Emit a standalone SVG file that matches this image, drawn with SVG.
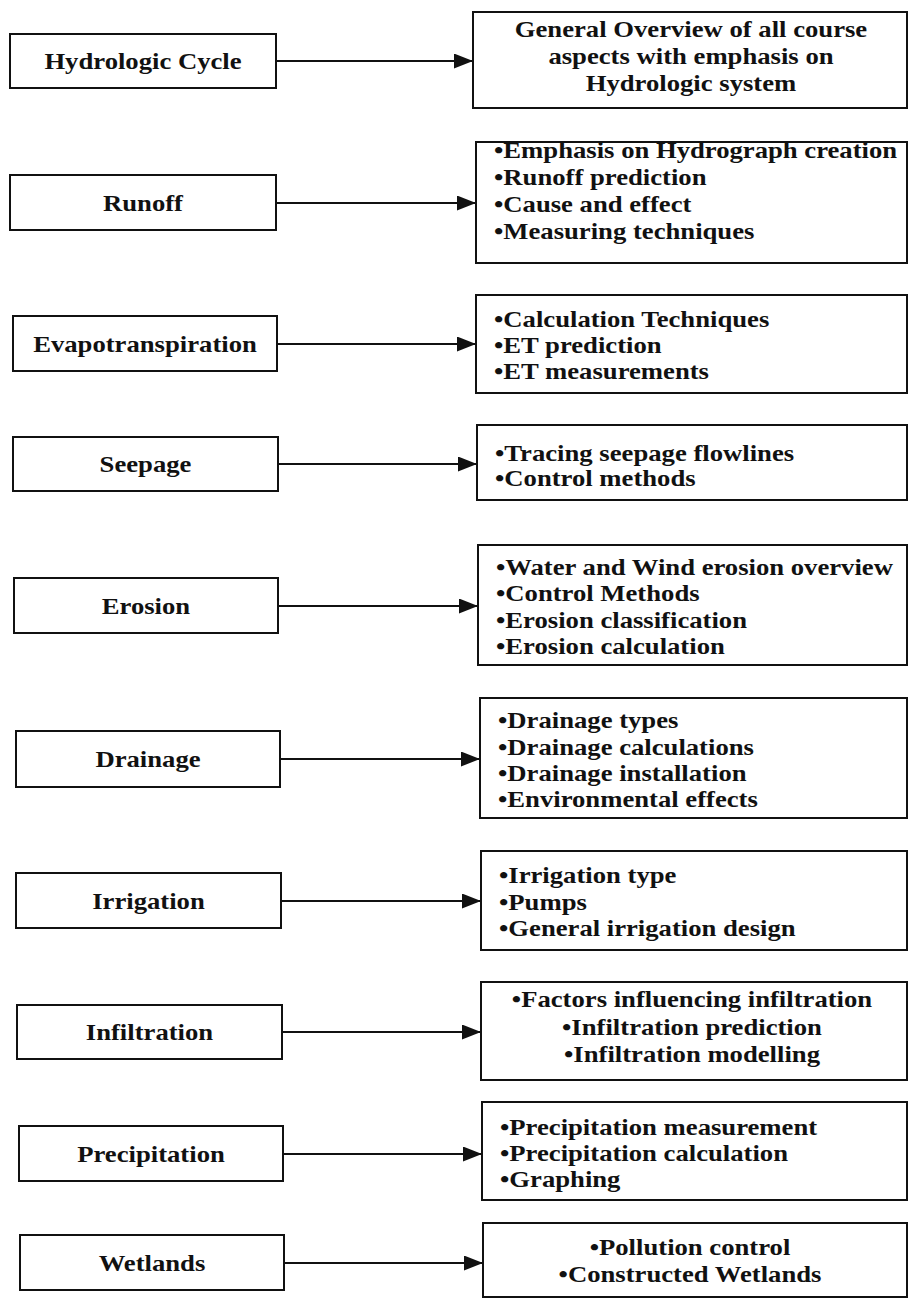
<svg xmlns="http://www.w3.org/2000/svg" width="909" height="1299" viewBox="0 0 909 1299">
<style>
.box{fill:#fff;stroke:#111;stroke-width:2}
.t{font-family:"Liberation Serif","Times New Roman",serif;font-weight:bold;font-size:23px;fill:#111}
.c{text-anchor:middle}
.con{stroke:#111;stroke-width:2;fill:none;marker-end:url(#ah)}
</style>
<defs>
<marker id="ah" markerUnits="userSpaceOnUse" markerWidth="19" markerHeight="15" refX="19" refY="7.5" orient="auto">
<path d="M0,0 L19,7.5 L0,15 z" fill="#111"/>
</marker>
</defs>
<rect width="909" height="1299" fill="#fff"/>
<g id="connectors">
<path class="con" d="M276,61 H473"/>
<path class="con" d="M276,203 H476"/>
<path class="con" d="M277,344 H476"/>
<path class="con" d="M278,464 H477"/>
<path class="con" d="M278,606 H478"/>
<path class="con" d="M280,759 H480"/>
<path class="con" d="M281,901 H481"/>
<path class="con" d="M282,1032 H481"/>
<path class="con" d="M283,1154 H482"/>
<path class="con" d="M284,1263 H483"/>
</g>
<g id="n-hydrologic-cycle">
<rect class="box" x="10" y="34" width="266" height="54"/>
<g transform="scale(1.16,1)"><text class="t c" x="123.28" y="69">Hydrologic Cycle</text></g>
</g>
<g id="n-runoff">
<rect class="box" x="10" y="175" width="266" height="55"/>
<g transform="scale(1.16,1)"><text class="t c" x="123.28" y="211">Runoff</text></g>
</g>
<g id="n-evapotranspiration">
<rect class="box" x="13" y="316" width="264" height="55"/>
<g transform="scale(1.16,1)"><text class="t c" x="125" y="352">Evapotranspiration</text></g>
</g>
<g id="n-seepage">
<rect class="box" x="13" y="437" width="265" height="54"/>
<g transform="scale(1.16,1)"><text class="t c" x="125.43" y="472">Seepage</text></g>
</g>
<g id="n-erosion">
<rect class="box" x="14" y="578" width="264" height="55"/>
<g transform="scale(1.16,1)"><text class="t c" x="125.86" y="614">Erosion</text></g>
</g>
<g id="n-drainage">
<rect class="box" x="16" y="731" width="264" height="56"/>
<g transform="scale(1.16,1)"><text class="t c" x="127.59" y="767">Drainage</text></g>
</g>
<g id="n-irrigation">
<rect class="box" x="16" y="873" width="265" height="55"/>
<g transform="scale(1.16,1)"><text class="t c" x="128.02" y="909">Irrigation</text></g>
</g>
<g id="n-infiltration">
<rect class="box" x="17" y="1005" width="265" height="54"/>
<g transform="scale(1.16,1)"><text class="t c" x="128.88" y="1040">Infiltration</text></g>
</g>
<g id="n-precipitation">
<rect class="box" x="19" y="1126" width="264" height="55"/>
<g transform="scale(1.16,1)"><text class="t c" x="130.17" y="1162">Precipitation</text></g>
</g>
<g id="n-wetlands">
<rect class="box" x="20" y="1235" width="264" height="55"/>
<g transform="scale(1.16,1)"><text class="t c" x="131.03" y="1271">Wetlands</text></g>
</g>
<g id="d-hydrologic-cycle">
<rect class="box" x="473" y="12" width="434" height="96"/>
<g transform="scale(1.16,1)">
<text class="t c" x="595.69" y="37">General Overview of all course</text>
<text class="t c" x="595.69" y="64">aspects with emphasis on</text>
<text class="t c" x="595.69" y="91">Hydrologic system</text>
</g>
</g>
<g id="d-runoff">
<rect class="box" x="476" y="142" width="431" height="121"/>
<g transform="scale(1.16,1)">
<text class="t" x="425.86" y="158">•Emphasis on Hydrograph creation</text>
<text class="t" x="425.86" y="185">•Runoff prediction</text>
<text class="t" x="425.86" y="212">•Cause and effect</text>
<text class="t" x="425.86" y="239">•Measuring techniques</text>
</g>
</g>
<g id="d-evapotranspiration">
<rect class="box" x="476" y="295" width="431" height="98"/>
<g transform="scale(1.16,1)">
<text class="t" x="425.86" y="327">•Calculation Techniques</text>
<text class="t" x="425.86" y="353">•ET prediction</text>
<text class="t" x="425.86" y="379">•ET measurements</text>
</g>
</g>
<g id="d-seepage">
<rect class="box" x="477" y="425" width="430" height="75"/>
<g transform="scale(1.16,1)">
<text class="t" x="426.72" y="461">•Tracing seepage flowlines</text>
<text class="t" x="426.72" y="486">•Control methods</text>
</g>
</g>
<g id="d-erosion">
<rect class="box" x="478" y="545" width="429" height="120"/>
<g transform="scale(1.16,1)">
<text class="t" x="427.59" y="575">•Water and Wind erosion overview</text>
<text class="t" x="427.59" y="601">•Control Methods</text>
<text class="t" x="427.59" y="628">•Erosion classification</text>
<text class="t" x="427.59" y="654">•Erosion calculation</text>
</g>
</g>
<g id="d-drainage">
<rect class="box" x="480" y="698" width="427" height="120"/>
<g transform="scale(1.16,1)">
<text class="t" x="429.31" y="728">•Drainage types</text>
<text class="t" x="429.31" y="755">•Drainage calculations</text>
<text class="t" x="429.31" y="781">•Drainage installation</text>
<text class="t" x="429.31" y="807">•Environmental effects</text>
</g>
</g>
<g id="d-irrigation">
<rect class="box" x="481" y="851" width="426" height="99"/>
<g transform="scale(1.16,1)">
<text class="t" x="430.17" y="883">•Irrigation type</text>
<text class="t" x="430.17" y="910">•Pumps</text>
<text class="t" x="430.17" y="936">•General irrigation design</text>
</g>
</g>
<g id="d-infiltration">
<rect class="box" x="481" y="982" width="426" height="98"/>
<g transform="scale(1.16,1)">
<text class="t c" x="596.55" y="1007">•Factors influencing infiltration</text>
<text class="t c" x="596.55" y="1035">•Infiltration prediction</text>
<text class="t c" x="596.55" y="1062">•Infiltration modelling</text>
</g>
</g>
<g id="d-precipitation">
<rect class="box" x="482" y="1102" width="425" height="98"/>
<g transform="scale(1.16,1)">
<text class="t" x="431.03" y="1135">•Precipitation measurement</text>
<text class="t" x="431.03" y="1161">•Precipitation calculation</text>
<text class="t" x="431.03" y="1187">•Graphing</text>
</g>
</g>
<g id="d-wetlands">
<rect class="box" x="483" y="1223" width="424" height="74"/>
<g transform="scale(1.16,1)">
<text class="t c" x="594.83" y="1255">•Pollution control</text>
<text class="t c" x="594.83" y="1282">•Constructed Wetlands</text>
</g>
</g>
</svg>
